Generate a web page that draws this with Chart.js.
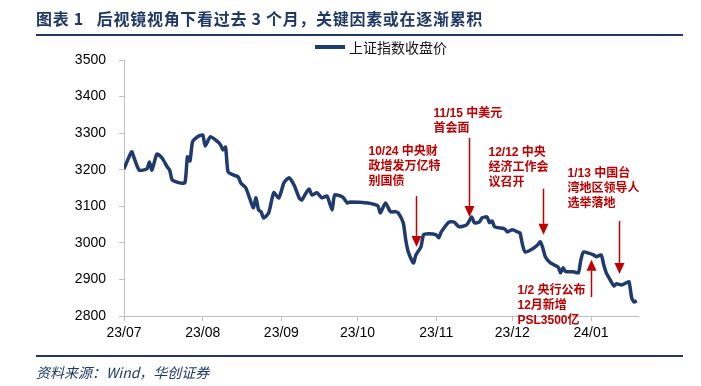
<!DOCTYPE html>
<html lang="zh">
<head>
<meta charset="UTF-8">
<title>后视镜视角下看过去3个月</title>
<script src="https://cdn.jsdelivr.net/npm/chart.js"></script>
<style>
    body {
        margin: 0;
        background: #fff;
    }
    .wrap {
        position: relative;
        width: 701px;
        height: 386px;
        overflow: hidden;
    }
    #sseChart {
        position: absolute;
        left: 0;
        top: 0;
    }
    .title {
        position: absolute;
        left: 36px;
        top: 6px;
        font: bold 16px "Noto Sans CJK SC", sans-serif;
        letter-spacing: 0.7px;
        color: #1f3864;
        white-space: nowrap;
    }
    .rule {
        position: absolute;
        left: 36px;
        width: 647px;
        height: 2px;
        background: #1f3864;
    }
    .legend {
        position: absolute;
        left: 315px;
        top: 37px;
        font: 14px "Noto Sans CJK SC", sans-serif;
        color: #111;
        white-space: nowrap;
    }
    .legend .swatch {
        display: inline-block;
        width: 30px;
        height: 4px;
        background: #1f3a6e;
        vertical-align: middle;
        margin-right: 4px;
        position: relative;
        top: -2px;
    }
    .source {
        position: absolute;
        left: 36px;
        top: 362px;
        font: italic 14px "Noto Sans CJK SC", serif;
        color: #1f3864;
        white-space: nowrap;
    }
</style>
</head>
<body>
<div class="wrap">
    <canvas id="sseChart" width="701" height="386"></canvas>
    <div class="title">图表 1&nbsp;&nbsp;&nbsp;后视镜视角下看过去 3 个月，关键因素或在逐渐累积</div>
    <div class="rule" style="top:34px"></div>
    <div class="legend"><span class="swatch"></span>上证指数收盘价</div>
    <div class="rule" style="top:355px"></div>
    <div class="source">资料来源：Wind，华创证券</div>
</div>

<script>
    // 上证指数收盘价
    const seriesName = '上证指数收盘价';
    const closeDates = [
        '2023-07-01', '2023-07-04', '2023-07-05', '2023-07-07', '2023-07-10', '2023-07-11', '2023-07-12',
        '2023-07-14', '2023-07-16', '2023-07-18', '2023-07-19', '2023-07-20', '2023-07-23', '2023-07-25',
        '2023-07-26', '2023-07-27', '2023-07-28', '2023-07-30', '2023-08-01', '2023-08-02', '2023-08-04',
        '2023-08-07', '2023-08-08', '2023-08-09', '2023-08-10', '2023-08-11', '2023-08-13', '2023-08-15',
        '2023-08-16', '2023-08-18', '2023-08-20', '2023-08-21', '2023-08-22', '2023-08-23', '2023-08-24',
        '2023-08-25', '2023-08-27', '2023-08-29', '2023-08-31', '2023-09-02', '2023-09-04', '2023-09-06',
        '2023-09-08', '2023-09-09', '2023-09-11', '2023-09-12', '2023-09-13', '2023-09-15', '2023-09-17',
        '2023-09-19', '2023-09-21', '2023-09-22', '2023-09-25', '2023-09-27', '2023-09-28', '2023-10-05',
        '2023-10-09', '2023-10-10', '2023-10-12', '2023-10-14', '2023-10-16', '2023-10-17', '2023-10-19',
        '2023-10-20', '2023-10-21', '2023-10-23', '2023-10-24', '2023-10-26', '2023-10-27', '2023-10-29',
        '2023-11-01', '2023-11-02', '2023-11-03', '2023-11-06', '2023-11-08', '2023-11-10', '2023-11-13',
        '2023-11-15', '2023-11-16', '2023-11-18', '2023-11-19', '2023-11-21', '2023-11-22', '2023-11-23',
        '2023-11-24', '2023-11-26', '2023-11-28', '2023-11-29', '2023-12-01', '2023-12-03', '2023-12-04',
        '2023-12-05', '2023-12-06', '2023-12-09', '2023-12-11', '2023-12-12', '2023-12-13', '2023-12-14',
        '2023-12-16', '2023-12-19', '2023-12-20', '2023-12-21', '2023-12-22', '2023-12-23', '2023-12-25',
        '2023-12-27', '2023-12-28', '2023-12-29', '2023-12-31', '2024-01-02', '2024-01-03', '2024-01-05',
        '2024-01-06', '2024-01-07', '2024-01-09', '2024-01-10', '2024-01-11', '2024-01-13', '2024-01-15',
        '2024-01-16', '2024-01-17', '2024-01-18', '2024-01-19'
    ];
    const closeValues = [
        3202, 3249, 3232, 3199, 3202, 3221, 3199,
        3243, 3232, 3208, 3199, 3172, 3164, 3164,
        3235, 3224, 3276, 3290, 3295, 3265, 3290,
        3276, 3268, 3254, 3262, 3194, 3186, 3180,
        3164, 3150, 3112, 3096, 3123, 3090, 3085,
        3068, 3082, 3137, 3123, 3164, 3178, 3158,
        3123, 3117, 3140, 3147, 3131, 3137, 3123,
        3128, 3090, 3131, 3126, 3109, 3112, 3109,
        3101, 3082, 3109, 3085, 3085, 3082, 3055,
        3008, 2975, 2945, 2967, 2989, 3022, 3025,
        3022, 3014, 3030, 3057, 3057, 3044, 3049,
        3071, 3055, 3057, 3068, 3071, 3055, 3060,
        3044, 3041, 3038, 3030, 3036, 3030, 3027,
        2995, 2975, 2984, 2995, 3003, 2986, 2962,
        2945, 2934, 2918, 2932, 2921, 2921, 2921,
        2918, 2954, 2975, 2972, 2967, 2962, 2967,
        2940, 2918, 2893, 2882, 2888, 2885, 2891,
        2893, 2850, 2838, 2842
    ];

    // 横轴刻度
    const tickDates = ['2023-07-01', '2023-08-01', '2023-09-01', '2023-10-01', '2023-11-01', '2023-12-01', '2024-01-01'];
    const tickLabels = ['23/07', '23/08', '23/09', '23/10', '23/11', '23/12', '24/01'];

    // 事件标注：箭头所在日期、箭头尖端与尾端的指数位置、文字
    const noteDates = ['2023-10-24', '2023-11-14', '2023-12-13', '2024-01-12', '2024-01-01'];
    const noteTips = [2989, 3071, 3022, 2915, 2954];
    const noteTails = [3128, 3287, 3148, 3060, 2852];
    const noteTexts = [
        ['10/24 中央财', '政增发万亿特', '别国债'],
        ['11/15 中美元', '首会面'],
        ['12/12 中央', '经济工作会', '议召开'],
        ['1/13 中国台', '湾地区领导人', '选举落地'],
        ['1/2 央行公布', '12月新增', 'PSL3500亿']
    ];
    // 文字相对箭头尾端的偏移（像素）
    const noteOffsets = [[-48, -44], [-36, -24], [-55, -36], [-52, -47], [-74, -6]];

    const lineColor = '#1f3a6e';
    const noteColor = '#c00000';
    const axisColor = '#bfbfbf';

    const DAY0 = Date.UTC(2023, 6, 1);
    function dayOf(s) {
        return (new Date(s + 'T00:00:00Z').getTime() - DAY0) / 86400000;
    }

    const notePlugin = {
        id: 'notes',
        afterDraw(chart) {
            const ctx = chart.ctx;
            const x = chart.scales.x;
            const y = chart.scales.y;
            ctx.save();
            noteDates.forEach((d, i) => {
                const px = Math.round(x.getPixelForValue(dayOf(d))) + 0.5;
                const tip = y.getPixelForValue(noteTips[i]);
                const tail = y.getPixelForValue(noteTails[i]);
                const dir = tip > tail ? 1 : -1;
                const headLen = 11;
                const headW = 5;

                ctx.strokeStyle = noteColor;
                ctx.fillStyle = noteColor;
                ctx.lineWidth = 1.5;
                ctx.beginPath();
                ctx.moveTo(px, tail);
                ctx.lineTo(px, tip - dir * headLen);
                ctx.stroke();
                ctx.beginPath();
                ctx.moveTo(px, tip);
                ctx.lineTo(px - headW, tip - dir * headLen);
                ctx.lineTo(px + headW, tip - dir * headLen);
                ctx.closePath();
                ctx.fill();

                ctx.font = 'bold 12px "Liberation Sans", "Noto Sans CJK SC", sans-serif';
                ctx.textAlign = 'left';
                ctx.textBaseline = 'middle';
                const left = px + noteOffsets[i][0];
                const top = tail + noteOffsets[i][1];
                noteTexts[i].forEach((t, k) => {
                    ctx.fillText(t, left, top + k * 15);
                });
            });
            ctx.restore();
        }
    };

    const ctx = document.getElementById('sseChart').getContext('2d');
    new Chart(ctx, {
        type: 'line',
        data: {
            datasets: [{
                label: seriesName,
                data: closeDates.map((d, i) => ({ x: dayOf(d), y: closeValues[i] })),
                borderColor: lineColor,
                borderWidth: 3.5,
                pointRadius: 0,
                tension: 0.2,
                fill: false
            }]
        },
        options: {
            responsive: false,
            animation: false,
            layout: {
                padding: { left: 0, right: 63, top: 60, bottom: 40 }
            },
            plugins: {
                legend: { display: false },
                tooltip: { enabled: false }
            },
            scales: {
                x: {
                    type: 'linear',
                    min: 0,
                    max: 202.5,
                    afterBuildTicks: function(scale) {
                        scale.ticks = tickDates.map(d => ({ value: dayOf(d) }));
                    },
                    afterFit: function(scale) {
                        scale.height = 30;
                    },
                    grid: { drawOnChartArea: false, drawTicks: true, tickLength: 5, color: axisColor },
                    border: { color: axisColor, width: 1 },
                    ticks: {
                        autoSkip: false,
                        maxRotation: 0,
                        padding: 4,
                        color: '#000',
                        font: { family: '"Liberation Sans", Arial, sans-serif', size: 14 },
                        callback: function(value, index) {
                            return tickLabels[index];
                        }
                    }
                },
                y: {
                    min: 2800,
                    max: 3500,
                    afterFit: function(scale) {
                        scale.width = 124;
                    },
                    grid: { drawOnChartArea: false, drawTicks: true, tickLength: 5, color: axisColor },
                    border: { color: axisColor, width: 1 },
                    ticks: {
                        stepSize: 100,
                        padding: 13,
                        color: '#000',
                        font: { family: '"Liberation Sans", Arial, sans-serif', size: 14 },
                        callback: function(value) {
                            return value;
                        }
                    }
                }
            }
        },
        plugins: [notePlugin]
    });
</script>
</body>
</html>
